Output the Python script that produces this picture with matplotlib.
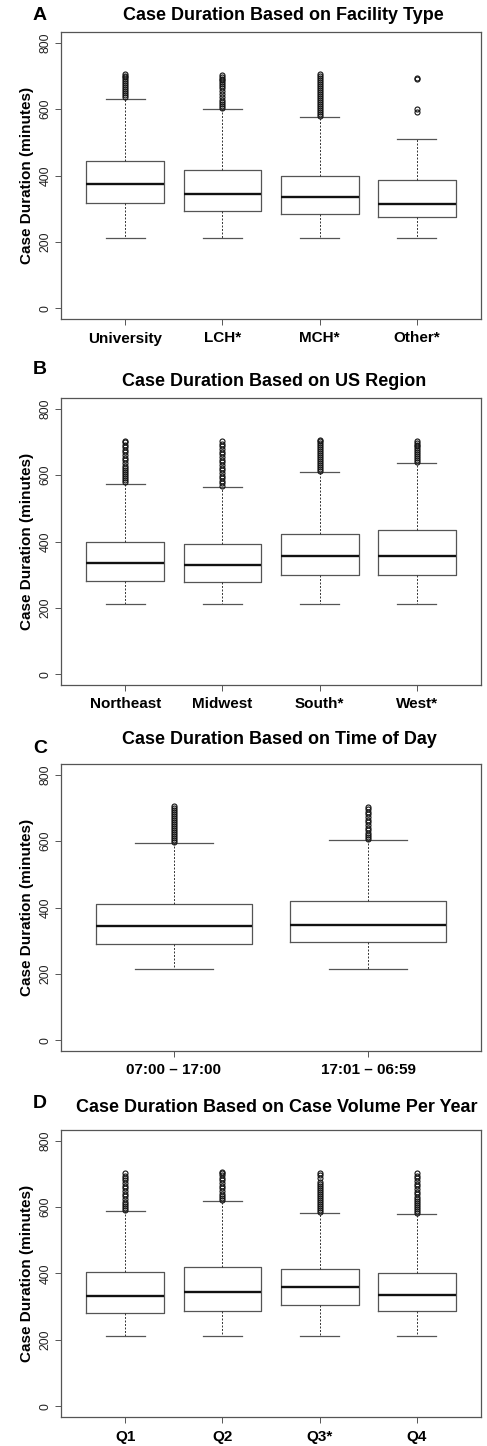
import matplotlib
matplotlib.use("Agg")
import matplotlib.pyplot as plt

plt.rcParams['font.family'] = ['Liberation Sans', 'DejaVu Sans']

# ---- data (minutes) ----
# panel A: facility type
facility_labels = ["University", "LCH*", "MCH*", "Other*"]
facility_whislo = [213, 213, 213, 213]
facility_q1 = [318, 293, 284, 274]
facility_med = [374, 345, 335, 314]
facility_q3 = [443, 416, 400, 386]
facility_whishi = [631, 599, 577, 509]
facility_fliers = [
    [636, 642, 648, 654, 660, 666, 672, 678, 684, 690, 696, 701, 706],
    [603, 608, 614, 620, 628, 636, 645, 654, 662, 668, 674, 680, 686, 692, 698, 704],
    [580, 586, 592, 598, 604, 610, 616, 622, 628, 634, 640, 646, 652, 658, 664,
     670, 676, 682, 688, 694, 700, 706],
    [590, 600, 690, 694],
]

# panel B: US region
region_labels = ["Northeast", "Midwest", "South*", "West*"]
region_whislo = [213, 213, 213, 213]
region_q1 = [282, 277, 299, 299]
region_med = [334, 329, 355, 356]
region_q3 = [399, 392, 424, 434]
region_whishi = [574, 564, 609, 635]
region_fliers = [
    [578, 584, 590, 596, 602, 608, 614, 620, 628, 636, 644, 652, 660, 668, 676, 684, 692, 700, 703],
    [568, 575, 582, 590, 598, 606, 614, 622, 630, 638, 646, 654, 662, 670, 678, 686, 694, 702],
    [612, 618, 624, 630, 636, 642, 648, 654, 660, 666, 672, 678, 684, 690, 696, 702, 707],
    [638, 644, 650, 656, 662, 668, 674, 680, 686, 692, 698, 704],
]

# panel C: time of day
time_labels = ["07:00 \u2013 17:00", "17:01 \u2013 06:59"]
time_whislo = [215, 215]
time_q1 = [289, 295]
time_med = [343, 347]
time_q3 = [411, 419]
time_whishi = [594, 604]
time_fliers = [
    [597, 603, 609, 615, 621, 627, 633, 639, 645, 651, 657, 663, 669, 675, 681,
     687, 693, 699, 705],
    [607, 612, 618, 624, 632, 640, 648, 656, 664, 672, 680, 688, 696, 703],
]

# panel D: case volume per year
volume_labels = ["Q1", "Q2", "Q3*", "Q4"]
volume_whislo = [213, 213, 213, 213]
volume_q1 = [282, 286, 305, 286]
volume_med = [333, 345, 359, 336]
volume_q3 = [404, 419, 415, 403]
volume_whishi = [587, 618, 582, 578]
volume_fliers = [
    [590, 596, 602, 608, 616, 624, 632, 640, 648, 656, 664, 672, 680, 688, 695, 702],
    [621, 627, 633, 640, 648, 656, 664, 672, 680, 688, 696, 702, 707],
    [585, 591, 597, 603, 609, 615, 621, 627, 633, 639, 645, 651, 657, 663, 669,
     675, 688, 696, 703],
    [581, 587, 593, 599, 605, 611, 617, 623, 630, 638, 646, 654, 662, 670, 678,
     686, 694, 702],
]

panels = [
    ("A", "Case Duration Based on Facility Type", facility_labels, facility_whislo,
     facility_q1, facility_med, facility_q3, facility_whishi, facility_fliers),
    ("B", "Case Duration Based on US Region", region_labels, region_whislo,
     region_q1, region_med, region_q3, region_whishi, region_fliers),
    ("C", "Case Duration Based on Time of Day", time_labels, time_whislo,
     time_q1, time_med, time_q3, time_whishi, time_fliers),
    ("D", "Case Duration Based on Case Volume Per Year", volume_labels, volume_whislo,
     volume_q1, volume_med, volume_q3, volume_whishi, volume_fliers),
]

W, H = 487, 1446
fig = plt.figure(figsize=(W / 100, H / 100), dpi=100)

# layout in pixels (top, bottom of axes box), title/letter positions
axes_y = [(32, 319), (398, 685), (764, 1051), (1130, 1417)]
title_pos = [(283, 15), (274, 381), (279, 739), (277, 1108)]
letter_pos = [(40, 15), (40, 369), (40, 748), (40, 1103)]
ax_left, ax_right = 61, 481

edge = "#555555"

for i, (letter, title, labels, wlo, q1, med, q3, whi, fl) in enumerate(panels):
    top, bot = axes_y[i]
    ax = fig.add_axes([ax_left / W, 1 - bot / H, (ax_right - ax_left) / W, (bot - top) / H])
    stats = []
    for j in range(len(labels)):
        stats.append(dict(whislo=wlo[j], q1=q1[j], med=med[j], q3=q3[j],
                          whishi=whi[j], fliers=fl[j]))
    n = len(labels)
    pos = list(range(1, n + 1))
    ax.bxp(stats, positions=pos, widths=0.8, capwidths=0.4, showfliers=True,
           boxprops=dict(color=edge, linewidth=0.9),
           medianprops=dict(color="#111111", linewidth=1.7),
           whiskerprops=dict(color="#333333", linewidth=0.7, linestyle=(0, (2, 1.6))),
           capprops=dict(color=edge, linewidth=0.9),
           flierprops=dict(marker="o", markersize=3.6, markerfacecolor="none",
                           markeredgecolor="#111111", markeredgewidth=0.8))
    ext = 0.04 * n
    ax.set_xlim(0.5 - ext, n + 0.5 + ext)
    ax.set_ylim(-32, 832)
    ax.set_xticks(pos)
    ax.set_xticklabels(labels, fontsize=11, fontweight="bold")
    ax.set_yticks([0, 200, 400, 600, 800])
    ax.set_yticklabels(["0", "200", "400", "600", "800"], rotation=90, va="center",
                       fontsize=8.8, color="#222222")
    ax.tick_params(axis="x", length=4, width=0.7, color=edge, pad=5)
    ax.tick_params(axis="y", length=4, width=0.7, color=edge, pad=3)
    for s in ax.spines.values():
        s.set_color(edge)
        s.set_linewidth(0.9)
    ax.set_ylabel("Case Duration (minutes)", fontsize=11, fontweight="bold", labelpad=4)

    tx, ty = title_pos[i]
    fig.text(tx / W, 1 - ty / H, title, ha="center", va="center",
             fontsize=13, fontweight="bold")
    lx, ly = letter_pos[i]
    fig.text(lx / W, 1 - ly / H, letter, ha="center", va="center",
             fontsize=14, fontweight="bold")

fig.savefig("out.png", dpi=100, facecolor="white")
